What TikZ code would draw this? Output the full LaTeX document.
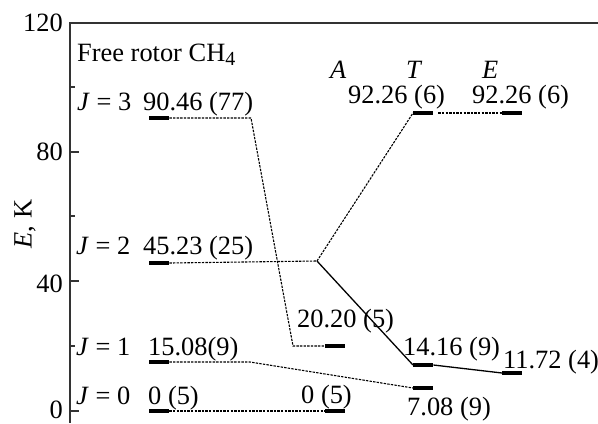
\documentclass[tikz,border=0pt]{standalone}
\usepackage{fontspec}
\setmainfont{Liberation Serif}
\begin{document}
\begin{tikzpicture}[x=1bp,y=-1bp,
  lbl/.style={anchor=base west,inner sep=0pt,font=\fontsize{26.5}{30}\selectfont},
  tlbl/.style={anchor=base east,inner sep=0pt,font=\fontsize{26.5}{30}\selectfont},
  lvl/.style={rectangle,fill=black,inner sep=0pt,minimum width=20bp,minimum height=3.8bp,anchor=west},
  axisline/.style={draw=black!80,line width=1.4bp},
  dsh/.style={draw=black,line width=1.1bp,dash pattern=on 2.4bp off 1.2bp},
  sol/.style={draw=black,line width=1.3bp}]
\useasboundingbox (0,0) rectangle (598,423);
% axes
\draw[axisline] (598,23) -- (70,23) -- (70,423);
\foreach \yy in {152,281,411} \draw[axisline] (70,\yy) -- (79,\yy);
\foreach \yy in {87,216,346} \draw[axisline] (70,\yy) -- (75,\yy);
\node[tlbl] (t120) at (63,31) {120};
\node[tlbl] (t80) at (63,160) {80};
\node[tlbl] (t40) at (63,292) {40};
\node[tlbl] (t0) at (63,418) {0};
\node[anchor=center,inner sep=0pt,rotate=90,font=\fontsize{26.5}{30}\selectfont] (ylab) at (25,224) {\textit{E}, K};
% coordinates
\coordinate (c3) at (251,118);
\coordinate (c3b) at (293,346);
\coordinate (jn) at (317,261);
\coordinate (c1) at (250,362);
% level bars
\node[lvl] (J3) at (149,118) {};
\node[lvl] (J2) at (149,263) {};
\node[lvl] (J1) at (149,362) {};
\node[lvl] (J0) at (149,411) {};
\node[lvl] (A1) at (325,346) {};
\node[lvl] (A0) at (325,411) {};
\node[lvl] (T1) at (413,113) {};
\node[lvl] (E1) at (502,113) {};
\node[lvl] (T0) at (413,365) {};
\node[lvl] (E0) at (502,373) {};
\node[lvl] (T00) at (413,388) {};
% connectors
\draw[dsh] (J3.east) -- (c3) -- (c3b) -- (A1.west);
\draw[dsh] (J2.east) -- (jn);
\draw[dsh] (jn) -- (T1.west);
\draw[sol] (jn) -- (T0.west);
\draw[sol] (T0.east) -- (E0.west);
\draw[dsh] ([xshift=5bp]T1.east) -- (E1.west);
\draw[dsh] (J1.east) -- (c1) -- (T00.west);
\draw[dsh] (J0.east) -- (A0.west);
% redraw bars on top
\foreach \n in {J3,J2,J1,J0,A1,A0,T1,E1,T0,E0,T00}
  \fill[black] (\n.south west) rectangle (\n.north east);
% labels
\node[lbl] (free) at (77,61) {Free rotor CH\textsubscript{\fontsize{20}{22}\selectfont 4}};
\node[lbl] (lj3) at (77,110) {\textit{J} = 3};
\node[lbl] (v3) at (143,110) {90.46 (77)};
\node[lbl] (lj2) at (76,254) {\textit{J} = 2};
\node[lbl] (v2) at (143,254) {45.23 (25)};
\node[lbl] (lj1) at (76,355) {\textit{J} = 1};
\node[lbl] (v1) at (148,355) {15.08(9)};
\node[lbl] (lj0) at (76,404) {\textit{J} = 0};
\node[lbl] (v0) at (148,404) {0 (5)};
\node[lbl] (hA) at (330,78) {\textit{A}};
\node[lbl] (hT) at (406,78) {\textit{T}};
\node[lbl] (hE) at (482,78) {\textit{E}};
\node[lbl] (vT1) at (348,103) {92.26 (6)};
\node[lbl] (vE1) at (472,103) {92.26 (6)};
\node[lbl] (vA1) at (297,327) {20.20 (5)};
\node[lbl] (vA0) at (301,403) {0 (5)};
\node[lbl] (vT0) at (403,355) {14.16 (9)};
\node[lbl] (vE0) at (503,368) {11.72 (4)};
\node[lbl] (vT00) at (407,415) {7.08 (9)};
\end{tikzpicture}
\end{document}
